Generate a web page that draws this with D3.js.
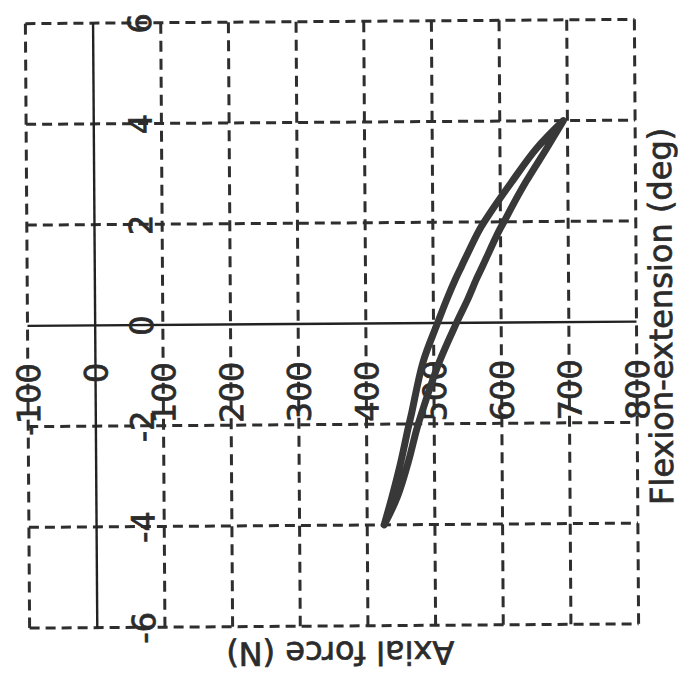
<!DOCTYPE html>
<html>
<head>
<meta charset="utf-8">
<script src="https://cdn.jsdelivr.net/npm/d3@7"></script>
<style>
  html, body { margin: 0; padding: 0; background: #fff; }
  svg { display: block; }
  text { font-family: "DejaVu Sans", sans-serif; fill: #2b2b2b; stroke: #2b2b2b; stroke-width: 0.7px; }
</style>
</head>
<body>
<svg id="chart" width="680" height="675"></svg>
<script>
// ---- data ----
const axialTicks = [-100, 0, 100, 200, 300, 400, 500, 600, 700, 800];
const flexTicks = [-6, -4, -2, 0, 2, 4, 6];
const axialTitle = "Axial force (N)";
const flexTitle = "Flexion-extension (deg)";

// branch with lower axial force (left in picture)
const flexLow  = [-4.0, -3.44, -2.77, -2.11, -1.77, -0.78, 0.0, 0.47, 0.87, 1.12, 1.80, 2.02, 2.32, 2.79, 3.45, 4.0];
const axialLow = [425, 437, 450, 461, 467, 484, 506, 520, 533, 542, 567, 577, 592, 617, 654, 694];
// branch with higher axial force (right in picture)
const flexHigh  = [4.0, 3.45, 2.79, 2.32, 2.02, 1.80, 1.12, 0.87, 0.47, 0.0, -0.78, -1.77, -2.11, -2.77, -3.44, -4.0];
const axialHigh = [694, 669, 638, 618, 606, 597, 573, 564, 551, 534, 508, 482, 474, 461, 445, 425];

// ---- drawing ----
const svg = d3.select("#chart");
const g = svg.append("g").attr("transform", "rotate(-0.4, 331, 324)");

const x = d3.scaleLinear().domain([-100, 800]).range([27.5, 636.5]);
const y = d3.scaleLinear().domain([-6, 6]).range([626, 21.5]);

const gridColor = "#2e2e2e";
const fmt = d => String(d);

// dashed grid (vertical: axial force values)
g.append("g")
  .selectAll("line")
  .data(axialTicks.filter(d => d !== 0))
  .join("line")
  .attr("x1", d => x(d)).attr("x2", d => x(d))
  .attr("y1", y(6)).attr("y2", y(-6))
  .attr("stroke", gridColor).attr("stroke-width", 3)
  .attr("stroke-dasharray", "11,7");

// dashed grid (horizontal: flexion values)
g.append("g")
  .selectAll("line")
  .data(flexTicks.filter(d => d !== 0))
  .join("line")
  .attr("x1", x(-100)).attr("x2", x(800))
  .attr("y1", d => y(d)).attr("y2", d => y(d))
  .attr("stroke", gridColor).attr("stroke-width", 3)
  .attr("stroke-dasharray", "10,6");

// solid axis lines
g.append("line")
  .attr("x1", x(0)).attr("x2", x(0))
  .attr("y1", y(6)).attr("y2", y(-6))
  .attr("stroke", "#222").attr("stroke-width", 2.4);
g.append("line")
  .attr("x1", x(-100)).attr("x2", x(800))
  .attr("y1", y(0)).attr("y2", y(0))
  .attr("stroke", "#222").attr("stroke-width", 2.4);

// axial force tick labels (rotated)
const axialAxis = g.append("g")
  .attr("transform", "translate(0,361)")
  .call(d3.axisBottom(x).tickValues(axialTicks).tickSize(0).tickFormat(fmt));
axialAxis.select(".domain").remove();
axialAxis.selectAll("text")
  .attr("x", 0).attr("y", 0).attr("dy", null)
  .attr("transform", "translate(11.5,0) rotate(-90)")
  .attr("text-anchor", "end")
  .style("font-size", "32px")
  .style("font-family", "DejaVu Sans, sans-serif")
  .attr("fill", "#2b2b2b");

// flexion tick labels (rotated)
const flexAxis = g.append("g")
  .attr("transform", "translate(153,0)")
  .call(d3.axisLeft(y).tickValues(flexTicks).tickSize(0).tickFormat(fmt));
flexAxis.select(".domain").remove();
flexAxis.selectAll("text")
  .attr("x", 0).attr("y", 0).attr("dy", null)
  .attr("transform", "rotate(-90)")
  .attr("text-anchor", "middle")
  .style("font-size", "32px")
  .style("font-family", "DejaVu Sans, sans-serif")
  .attr("fill", "#2b2b2b");

// the loop
const pts = flexLow.map((f, i) => [axialLow[i], f])
  .concat(flexHigh.map((f, i) => [axialHigh[i], f]));
const line = d3.line()
  .x(d => x(d[0]))
  .y(d => y(d[1]))
  .curve(d3.curveCatmullRom.alpha(0.5));
g.append("path")
  .datum(pts)
  .attr("d", line)
  .attr("fill", "none")
  .attr("stroke", "#383838")
  .attr("stroke-width", 7)
  .attr("stroke-linejoin", "round")
  .attr("stroke-linecap", "round");

// axis titles
g.append("text")
  .attr("transform", `translate(${(x(-100) + x(800)) / 2 + 6},642) rotate(180)`)
  .attr("text-anchor", "middle")
  .style("font-size", "32px")
  .text(axialTitle);

g.append("text")
  .attr("transform", `translate(672,${(y(-6) + y(6)) / 2 - 5}) rotate(-90)`)
  .attr("text-anchor", "middle")
  .style("font-size", "32px")
  .text(flexTitle);
</script>
</body>
</html>
